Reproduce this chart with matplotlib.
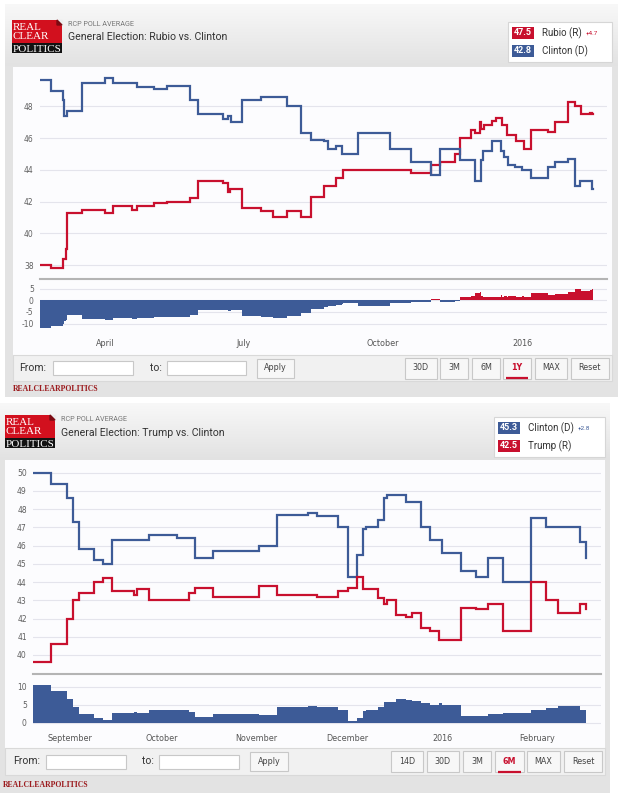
import numpy as np
import matplotlib
matplotlib.use('Agg')
import matplotlib.pyplot as plt
from matplotlib.patches import Rectangle, Polygon
from matplotlib.colors import LinearSegmentedColormap

# ---- Rubio vs. Clinton, 1Y (dates where the RCP average changes) ----
rubio_dates = ['2015-02-17', '2015-02-24', '2015-03-04', '2015-03-06', '2015-03-07', '2015-03-17',
               '2015-04-01', '2015-04-06', '2015-04-19', '2015-04-22', '2015-05-03', '2015-05-12',
               '2015-05-27', '2015-06-01', '2015-06-18', '2015-06-21', '2015-06-22', '2015-06-30',
               '2015-07-13', '2015-07-21', '2015-07-30', '2015-08-08', '2015-08-15', '2015-08-23',
               '2015-08-31', '2015-09-05', '2015-10-20', '2015-11-02', '2015-11-08', '2015-11-18',
               '2015-11-21', '2015-11-28', '2015-12-01', '2015-12-04', '2015-12-05', '2015-12-07',
               '2015-12-12', '2015-12-15', '2015-12-19', '2015-12-22', '2015-12-28', '2016-01-02',
               '2016-01-07', '2016-01-18', '2016-01-23', '2016-01-31', '2016-02-05', '2016-02-09',
               '2016-02-15', '2016-02-16', '2016-02-17']
rubio_vals = [38.0, 37.8, 38.4, 39.0, 41.3, 41.5, 41.3, 41.7, 41.5, 41.7, 41.9, 42.0,
              42.2, 43.3, 43.2, 42.6, 42.8, 41.6, 41.4, 41.0, 41.4, 41.0, 42.3, 43.0,
              43.5, 44.0, 43.8, 44.3, 44.5, 45.0, 46.0, 46.5, 46.3, 47.0, 46.6, 46.8,
              47.1, 47.3, 46.8, 46.2, 45.8, 45.3, 46.5, 46.4, 47.0, 48.3, 48.0, 47.5,
              47.6, 47.5, 47.5]

clinton_r_dates = ['2015-02-17', '2015-02-24', '2015-03-04', '2015-03-05', '2015-03-07', '2015-03-17',
                   '2015-04-01', '2015-04-06', '2015-04-22', '2015-05-03', '2015-05-12', '2015-05-27',
                   '2015-06-01', '2015-06-18', '2015-06-21', '2015-06-23', '2015-06-30', '2015-07-13',
                   '2015-07-30', '2015-08-08', '2015-08-15', '2015-08-23', '2015-08-26', '2015-08-31',
                   '2015-09-04', '2015-09-15', '2015-10-06', '2015-10-20', '2015-11-02', '2015-11-08',
                   '2015-11-21', '2015-12-01', '2015-12-05', '2015-12-06', '2015-12-12', '2015-12-18',
                   '2015-12-20', '2015-12-23', '2015-12-27', '2016-01-01', '2016-01-07', '2016-01-18',
                   '2016-01-23', '2016-01-31', '2016-02-05', '2016-02-08', '2016-02-16', '2016-02-17']
clinton_r_vals = [49.7, 49.0, 48.4, 47.4, 47.7, 49.5, 49.8, 49.5, 49.2, 49.1, 49.3, 48.4,
                  47.5, 47.2, 47.4, 47.0, 48.4, 48.6, 48.0, 46.3, 45.9, 45.8, 45.3, 45.5,
                  45.0, 46.3, 45.3, 44.5, 43.7, 45.3, 44.6, 43.3, 44.6, 45.2, 45.8, 45.2,
                  44.8, 44.3, 44.2, 44.0, 43.5, 44.2, 44.5, 44.7, 43.0, 43.3, 42.8, 42.8]

# ---- Trump vs. Clinton, 6M ----
clinton_t_dates = ['2015-08-20', '2015-08-26', '2015-08-31', '2015-09-02', '2015-09-04', '2015-09-09',
                   '2015-09-12', '2015-09-15', '2015-09-27', '2015-10-06', '2015-10-12', '2015-10-18',
                   '2015-11-02', '2015-11-08', '2015-11-18', '2015-11-21', '2015-11-28', '2015-12-01',
                   '2015-12-04', '2015-12-06', '2015-12-07', '2015-12-11', '2015-12-13', '2015-12-14',
                   '2015-12-20', '2015-12-25', '2015-12-28', '2016-01-01', '2016-01-07', '2016-01-12',
                   '2016-01-16', '2016-01-21', '2016-01-30', '2016-02-04', '2016-02-15', '2016-02-17']
clinton_t_vals = [50.0, 49.4, 48.6, 47.3, 45.8, 45.2, 45.0, 46.3, 46.6, 46.4, 45.3, 45.7,
                  46.0, 47.7, 47.8, 47.6, 47.0, 44.3, 45.5, 46.9, 47.0, 47.4, 48.6, 48.8,
                  48.4, 47.0, 46.3, 45.6, 44.6, 44.3, 45.3, 44.0, 47.5, 47.0, 46.2, 45.3]

trump_dates = ['2015-08-20', '2015-08-26', '2015-08-31', '2015-09-02', '2015-09-04', '2015-09-09',
               '2015-09-12', '2015-09-15', '2015-09-22', '2015-09-23', '2015-09-27', '2015-10-10',
               '2015-10-12', '2015-10-18', '2015-11-02', '2015-11-08', '2015-11-21', '2015-11-28',
               '2015-12-01', '2015-12-04', '2015-12-06', '2015-12-11', '2015-12-13', '2015-12-14',
               '2015-12-17', '2015-12-20', '2015-12-22', '2015-12-25', '2015-12-28', '2015-12-31',
               '2016-01-07', '2016-01-12', '2016-01-16', '2016-01-21', '2016-01-30', '2016-02-04',
               '2016-02-08', '2016-02-15', '2016-02-17']
trump_vals = [39.6, 40.6, 42.0, 43.0, 43.4, 44.0, 44.2, 43.5, 43.3, 43.6, 43.0, 43.4,
              43.7, 43.2, 43.8, 43.3, 43.2, 43.5, 43.7, 44.3, 43.6, 43.1, 42.8, 43.0,
              42.2, 42.1, 42.3, 41.5, 41.3, 40.8, 42.6, 42.5, 42.8, 41.3, 44.0, 43.0,
              42.3, 42.8, 42.5]

# axis ticks
ticks_1y = ['2015-04-01', '2015-07-01', '2015-10-01', '2016-01-01']
labels_1y = ['April', 'July', 'October', '2016']
ticks_6m = ['2015-09-01', '2015-10-01', '2015-11-01', '2015-12-01', '2016-01-01', '2016-02-01']
labels_6m = ['September', 'October', 'November', 'December', '2016', 'February']
buttons_1y = ['30D', '3M', '6M', '1Y', 'MAX', 'Reset']
buttons_6m = ['14D', '30D', '3M', '6M', 'MAX', 'Reset']

W, H = 620, 793
BLUE = '#3d5b97'
RED = '#c8102e'
GRID = '#e4e4ec'
UI = 'Roboto'

fig = plt.figure(figsize=(W / 100, H / 100), dpi=100)
fig.patch.set_facecolor('white')
bg = fig.add_axes([0, 0, 1, 1])
bg.axis('off')
header_cmap = LinearSegmentedColormap.from_list('hdr', ['#f8f8f8', '#e2e2e2'])


def box(x0, y0, x1, y1, fc, ec='none', lw=0.8, z=1):
    bg.add_patch(Rectangle((x0, y0), x1 - x0, y1 - y0, facecolor=fc, edgecolor=ec, linewidth=lw, zorder=z))


def px_axes(x0, y0, x1, y1):
    ax = fig.add_axes([x0 / W, 1 - y1 / H, (x1 - x0) / W, (y1 - y0) / H])
    ax.set_facecolor('none')
    for s in ax.spines.values():
        s.set_visible(False)
    ax.tick_params(length=0, labelsize=5.5, labelcolor='#606060', pad=4.5)
    return ax


def step_at(dates, vals, grid):
    return np.asarray(vals)[np.searchsorted(dates, grid, side='right') - 1]


def draw_logo(x, y):
    box(x, y, x + 50, y + 23, '#d2101e', z=3)
    box(x, y + 23, x + 50, y + 33, '#121212', z=3)
    bg.add_patch(Polygon([(x + 45, y), (x + 50, y), (x + 50, y + 5)], color='#ececec', zorder=4))
    bg.add_patch(Polygon([(x + 45, y), (x + 50, y + 5), (x + 45, y + 5)], color='#7c0a12', zorder=4))
    for txt, dy in [('REAL', 10.3), ('CLEAR', 18.6), ('POLITICS', 31.6)]:
        bg.text(x + 0.5, y + dy, txt, color='white', fontsize=8, family='Liberation Serif',
                va='baseline', ha='left', zorder=5)


def draw_legend(x0, y0, x1, y1, rows, lead, lead_x):
    box(x0, y0, x1, y1, 'white', '#d6d6d6', z=3)
    for i, (name, val, col) in enumerate(rows):
        cy = y0 + 10.8 + i * 18
        box(x0 + 4, cy - 6.3, x0 + 26, cy + 6.3, col, z=4)
        bg.text(x0 + 15, cy, f'{val:.1f}', color='white', fontsize=6.5, family=UI, weight='bold',
                ha='center', va='center', zorder=5)
        bg.text(x0 + 33.5, cy, name, color='#333333', fontsize=7, family=UI, ha='left', va='center', zorder=5)
        if i == 0:
            bg.text(lead_x, cy + 0.5, f'+{lead:.1f}', color=col, fontsize=4.5, family=UI,
                    ha='left', va='center', zorder=5)


def draw_controls(y0, y1, inputs, from_x, to_x, apply_x, btn_x, labels, active):
    cy = (y0 + y1) / 2
    bg.text(from_x, cy, 'From:', fontsize=7.5, family=UI, color='#333333', va='center', zorder=5)
    bg.text(to_x, cy, 'to:', fontsize=7.5, family=UI, color='#333333', va='center', zorder=5)
    for a, b in inputs:
        box(a, cy - 7, b, cy + 7, 'white', '#c8c8c8', z=4)
    box(apply_x[0], cy - 9.5, apply_x[1], cy + 9.5, '#f7f7f7', '#c8c8c8', z=4)
    bg.text(sum(apply_x) / 2, cy, 'Apply', fontsize=5.8, color='#444444', ha='center', va='center', zorder=5)
    for (a, b), lab in zip(btn_x, labels):
        box(a, cy - 10.5, b, cy + 10.5, '#f7f7f7', '#c8c8c8', z=4)
        on = lab == active
        bg.text((a + b) / 2, cy, lab, fontsize=5.8, color=RED if on else '#444444',
                weight='bold' if on else 'normal', ha='center', va='center', zorder=5)
        if on:
            bg.plot([a + 3, b - 3], [cy + 10, cy + 10], color=RED, lw=1.6, zorder=6,
                    solid_capstyle='butt')


def draw_widget(outer, header_bottom, plot_box, bar, logo_xy, title, title_x,
                series, ylim, yticks, main_box, spread_box, spread_lim, spread_ticks,
                xlim, xticks, xlabels):
    ox0, oy0, ox1, oy1 = outer
    box(ox0, oy0, ox1, oy1, '#e3e3e3', z=1)
    bg.imshow(np.linspace(0, 1, 64).reshape(-1, 1), cmap=header_cmap, aspect='auto',
              extent=(ox0, ox1, header_bottom, oy0), zorder=2)
    px0, py0, px1, py1 = plot_box
    box(px0, py0, px1, py1, '#fcfcfe', z=2)
    box(px0, bar[0], px1, bar[1], '#f1f1f1', '#d9d9d9', z=3)
    bg.text(ox0 + 3 + (5 if ox0 > 0 else 0), oy1 - 8, 'REALCLEARPOLITICS', color='#9c1c1f', fontsize=5.6,
            family='Liberation Serif', weight='bold', va='center', zorder=5)
    draw_logo(*logo_xy)
    bg.text(title_x, logo_xy[1] + 4.5, 'RCP POLL AVERAGE', fontsize=5.2, family=UI, color='#777777',
            va='center', zorder=5)
    bg.text(title_x, logo_xy[1] + 17.5, title, fontsize=7.6, family=UI, color='#333333',
            va='center', zorder=5)

    # main lines
    ax = px_axes(*main_box)
    for dates, vals, col in series:
        ax.plot(np.array(dates, dtype='datetime64[D]'), vals, color=col, lw=1.6,
                drawstyle='steps-post', solid_joinstyle='miter')
    ax.set_xlim(*xlim)
    ax.set_ylim(*ylim)
    ax.set_yticks(yticks)
    ax.set_yticklabels([str(v) for v in yticks])
    ax.set_xticks([])
    ax.grid(axis='y', color=GRID, lw=0.8)
    ax.set_axisbelow(True)
    bg.plot([main_box[0], main_box[2]], [main_box[3] + 1.2] * 2, color='#b4b4b4', lw=1.5, zorder=4)

    # spread = first series minus second, sampled on every change date of either
    d1 = np.array(series[0][0], dtype='datetime64[D]')
    d2 = np.array(series[1][0], dtype='datetime64[D]')
    grid = np.union1d(d1, d2)
    spread = step_at(d1, series[0][1], grid) - step_at(d2, series[1][1], grid)
    sx = px_axes(*spread_box)
    sx.fill_between(grid, np.minimum(spread, 0), 0, step='post', color=BLUE, lw=0)
    sx.fill_between(grid, np.maximum(spread, 0), 0, step='post',
                    color=series[0][2] if series[0][2] == RED else BLUE, lw=0)
    sx.set_xlim(*xlim)
    sx.set_ylim(*spread_lim)
    sx.set_yticks(spread_ticks)
    sx.set_yticklabels([str(v) for v in spread_ticks])
    sx.grid(axis='y', color=GRID, lw=0.8)
    sx.set_axisbelow(True)
    sx.set_xticks(np.array(xticks, dtype='datetime64[D]'))
    sx.set_xticklabels(xlabels, fontsize=5.8, color='#555555')
    sx.tick_params(axis='x', pad=5.5)
    return spread


# ---------------- top widget: Rubio vs. Clinton ----------------
spread_r = draw_widget(
    outer=(5, 5, 618, 397), header_bottom=66.5, plot_box=(12.5, 66.5, 611.5, 355), bar=(355, 381),
    logo_xy=(12, 20), title='General Election: Rubio vs. Clinton', title_x=68,
    series=[(rubio_dates, rubio_vals, RED), (clinton_r_dates, clinton_r_vals, BLUE)],
    ylim=(37.18, 50.49), yticks=[38, 40, 42, 44, 46, 48],
    main_box=(40, 67, 607, 278), spread_box=(40, 281, 607, 331), spread_lim=(-13.18, 8.28),
    spread_ticks=[-10, -5, 0, 5],
    xlim=(np.datetime64('2015-02-17'), np.datetime64('2016-02-26')),
    xticks=ticks_1y, xlabels=labels_1y)
draw_legend(508, 22, 612, 62, [('Rubio (R)', rubio_vals[-1], RED), ('Clinton (D)', clinton_r_vals[-1], BLUE)],
            abs(spread_r[-1]), 585.5)
draw_controls(355, 381, [(52.8, 133), (166.7, 246)], 19.5, 150.5, (257, 294.4),
              [(404.8, 436.5), (439.7, 468.3), (472, 500), (503, 531), (535, 566.5), (570.6, 609)],
              buttons_1y, '1Y')

# ---------------- bottom widget: Trump vs. Clinton ----------------
spread_t = draw_widget(
    outer=(0, 403, 610, 793), header_bottom=460, plot_box=(5, 460, 605, 748), bar=(748, 775),
    logo_xy=(5, 415), title='General Election: Trump vs. Clinton', title_x=61,
    series=[(clinton_t_dates, clinton_t_vals, BLUE), (trump_dates, trump_vals, RED)],
    ylim=(39.01, 50.59), yticks=list(range(40, 51)),
    main_box=(33, 462, 601, 673), spread_box=(33, 675, 601, 726), spread_lim=(-0.88, 13.17),
    spread_ticks=[0, 5, 10],
    xlim=(np.datetime64('2015-08-20'), np.datetime64('2016-02-22')),
    xticks=ticks_6m, xlabels=labels_6m)
draw_legend(494, 417, 605, 457, [('Clinton (D)', clinton_t_vals[-1], BLUE), ('Trump (R)', trump_vals[-1], RED)],
            abs(spread_t[-1]), 577.5)
draw_controls(748, 775, [(45.6, 126), (158.7, 239.3)], 13.5, 142, (250, 287.7),
              [(391, 422.6), (426.6, 459), (463, 491), (495, 524), (527, 559.5), (563.5, 602.4)],
              buttons_6m, '6M')

bg.set_xlim(0, W)
bg.set_ylim(H, 0)
fig.savefig('out.png', dpi=100, facecolor='white')
